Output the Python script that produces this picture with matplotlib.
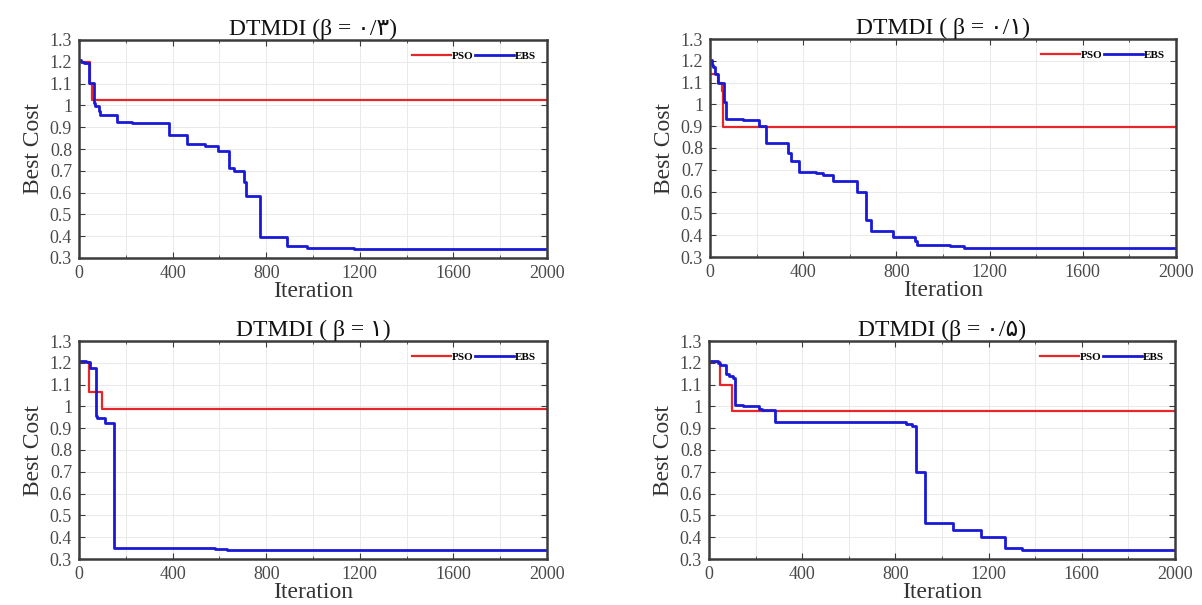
import matplotlib
matplotlib.use("Agg")
import matplotlib.pyplot as plt
from matplotlib.ticker import MultipleLocator

plt.rcParams['font.family'] = ['Liberation Serif', 'DejaVu Sans']

# panel titles (Persian digits as in the original)
titles = ["DTMDI (β = ۰/۳)", "DTMDI ( β = ۰/۱)", "DTMDI ( β = ۱)", "DTMDI (β = ۰/۵)"]

# PSO convergence (step points: iteration, best cost)
pso_x_1 = [0, 45, 55, 2000]
pso_y_1 = [1.20, 1.10, 1.025, 1.025]
pso_x_2 = [0, 36, 50, 55, 2000]
pso_y_2 = [1.139, 1.10, 1.06, 0.897, 0.897]
pso_x_3 = [0, 41, 99, 2000]
pso_y_3 = [1.205, 1.065, 0.988, 0.988]
pso_x_4 = [0, 46, 99, 2000]
pso_y_4 = [1.205, 1.10, 0.981, 0.981]

# EBS convergence
ebs_x_1 = [0, 10, 20, 41, 62, 70, 85, 90, 161, 227, 384, 461, 540, 593, 642, 663, 705, 712,
           775, 890, 976, 1174, 1552, 2000]
ebs_y_1 = [1.208, 1.20, 1.195, 1.105, 1.01, 0.995, 0.975, 0.956, 0.923, 0.918, 0.865, 0.824,
           0.816, 0.793, 0.712, 0.70, 0.65, 0.585, 0.395, 0.353, 0.346, 0.342, 0.340, 0.340]
ebs_x_2 = [0, 7, 12, 20, 36, 58, 61, 69, 140, 210, 239, 335, 348, 384, 454, 487, 528, 632,
           668, 693, 787, 880, 889, 1028, 1089, 1345, 2000]
ebs_y_2 = [1.204, 1.18, 1.17, 1.139, 1.10, 1.03, 1.01, 0.935, 0.93, 0.90, 0.821, 0.778, 0.74,
           0.69, 0.685, 0.675, 0.649, 0.596, 0.468, 0.419, 0.393, 0.375, 0.357, 0.35, 0.342,
           0.341, 0.341]
ebs_x_3 = [0, 28, 49, 71, 77, 112, 150, 583, 633, 1216, 2000]
ebs_y_3 = [1.21, 1.205, 1.178, 0.956, 0.945, 0.922, 0.349, 0.348, 0.343, 0.340, 0.340]
ebs_x_4 = [0, 38, 49, 71, 87, 104, 112, 145, 216, 228, 285, 590, 846, 871, 887, 890, 928,
           1049, 1167, 1270, 1344, 1514, 2000]
ebs_y_4 = [1.208, 1.20, 1.19, 1.149, 1.14, 1.13, 1.005, 1.0, 0.99, 0.985, 0.929, 0.928, 0.92,
           0.91, 0.89, 0.697, 0.466, 0.433, 0.402, 0.349, 0.342, 0.341, 0.341]

y_ticks = [0.3, 0.4, 0.5, 0.6, 0.7, 0.8, 0.9, 1.0, 1.1, 1.2, 1.3]
y_tick_labels = ["0.3", "0.4", "0.5", "0.6", "0.7", "0.8", "0.9", "1", "1.1", "1.2", "1.3"]
x_ticks = [0, 400, 800, 1200, 1600, 2000]

W, H = 1202, 605
fig = plt.figure(figsize=(W / 100, H / 100), dpi=100)

# axes boxes in pixels: left, top, right, bottom
boxes = [(79, 40, 547, 258), (710, 39, 1176, 257), (79, 341, 547, 559), (709, 341, 1175, 559)]
pso = [(pso_x_1, pso_y_1), (pso_x_2, pso_y_2), (pso_x_3, pso_y_3), (pso_x_4, pso_y_4)]
ebs = [(ebs_x_1, ebs_y_1), (ebs_x_2, ebs_y_2), (ebs_x_3, ebs_y_3), (ebs_x_4, ebs_y_4)]

for i in range(4):
    l, t, r, b = boxes[i]
    ax = fig.add_axes([l / W, 1 - b / H, (r - l) / W, (b - t) / H])
    ax.step(pso[i][0], pso[i][1], where='post', color='#e8262a', lw=1.6, label='PSO')
    ax.step(ebs[i][0], ebs[i][1], where='post', color='#1a1ad6', lw=2.0, label='EBS')
    ax.set_xlim(0, 2000)
    ax.set_ylim(0.3, 1.3)
    ax.set_xticks(x_ticks)
    ax.xaxis.set_minor_locator(MultipleLocator(200))
    ax.set_yticks(y_ticks)
    ax.set_yticklabels(y_tick_labels)
    ax.grid(True, which='both', color='#e6e6e6', lw=0.6)
    ax.set_axisbelow(True)
    ax.tick_params(which='both', direction='in', top=True, right=True, colors='#3a3a3a',
                   labelsize=13, labelcolor='#4a4a4a')
    ax.tick_params(which='major', length=4, pad=5)
    ax.tick_params(which='minor', length=2)
    for s in ax.spines.values():
        s.set_color('#3c3c3c')
        s.set_linewidth(1.8)
    ax.set_title(titles[i], fontsize=17, pad=3, color='#111111')
    ax.set_xlabel("Iteration", fontsize=17, color='#333333', labelpad=-1)
    ax.set_ylabel("Best Cost", fontsize=17, color='#333333', labelpad=4)
    ax.legend(loc='upper right', ncol=2, frameon=False, handlelength=3.5, handletextpad=0.1,
              columnspacing=0.1, borderaxespad=0.6,
              prop=dict(family='Liberation Serif', weight='bold', size=8))

fig.savefig("out.png", dpi=100)
